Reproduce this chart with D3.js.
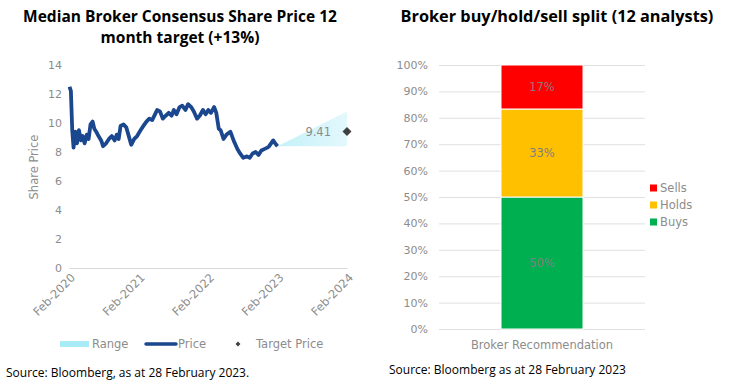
<!DOCTYPE html>
<html>
<head>
<meta charset="utf-8">
<script src="https://cdn.jsdelivr.net/npm/d3@7"></script>
<style>
  body { margin: 0; background: #fff; }
  svg text { font-family: "DejaVu Sans", sans-serif; }
</style>
</head>
<body>
<svg id="chart" width="733" height="384"></svg>
<script>
// share price
const priceDates = ["2020-03-02","2020-03-09","2020-03-16","2020-03-23","2020-04-01","2020-04-10","2020-04-20","2020-05-01","2020-05-10","2020-05-20","2020-06-01","2020-06-10","2020-06-20","2020-07-01","2020-07-10","2020-07-20","2020-08-01","2020-08-15","2020-08-25","2020-09-10","2020-09-25","2020-10-10","2020-10-25","2020-11-05","2020-11-15","2020-11-25","2020-12-10","2020-12-25","2021-01-05","2021-01-20","2021-02-05","2021-02-20","2021-03-10","2021-03-25","2021-04-10","2021-04-25","2021-05-10","2021-05-25","2021-06-05","2021-06-20","2021-07-05","2021-07-20","2021-08-05","2021-08-20","2021-09-01","2021-09-15","2021-10-01","2021-10-15","2021-11-01","2021-11-15","2021-12-01","2021-12-15","2022-01-01","2022-01-15","2022-02-01","2022-02-15","2022-03-01","2022-03-15","2022-04-01","2022-04-12","2022-04-25","2022-05-05","2022-05-20","2022-06-05","2022-06-25","2022-07-15","2022-08-01","2022-08-15","2022-09-01","2022-09-20","2022-10-05","2022-10-20","2022-11-05","2022-11-20","2022-12-05","2022-12-20","2023-01-05","2023-01-15","2023-02-05","2023-02-15","2023-02-28"];
const priceValues = [12.5,12.2,9.5,8.3,9.4,8.6,9.5,8.8,9.1,8.6,9.2,8.9,9.9,10.1,9.6,9.4,9.1,8.8,8.4,8.6,8.9,9.1,8.8,9.2,8.9,9.8,9.9,9.7,9.2,8.5,8.9,9.1,9.5,9.8,10.1,10.3,10.2,10.6,10.9,10.8,10.3,10.5,10.7,10.5,10.9,10.6,11.1,11.2,10.9,11.3,11.1,10.8,10.3,10.5,10.9,10.6,10.9,10.7,11.1,10.7,9.6,9.5,8.9,9.2,9.4,8.7,8.2,7.9,7.6,7.7,7.6,7.9,8.0,7.8,8.1,8.2,8.3,8.4,8.8,8.6,8.4];

const rangeDates = ["2023-02-28","2024-02-28"];
const rangeLow = [8.4, 8.4];
const rangeHigh = [8.4, 10.8];
const targetDate = "2024-02-28";
const targetPrice = 9.41;

const xTickLabels = ["Feb-2020","Feb-2021","Feb-2022","Feb-2023","Feb-2024"];
const xTickDates = ["2020-02-28","2021-02-28","2022-02-28","2023-02-28","2024-02-28"];

// broker split
const splitCategory = "Broker Recommendation";
const splitNames = ["Buys","Holds","Sells"];
const splitCounts = [6, 4, 2];
const splitColors = ["#00b050","#ffc000","#ff0000"];

const parse = d3.timeParse("%Y-%m-%d");
const svg = d3.select("#chart");
const grey = "#8c8c8c";

// ---------- left chart ----------
const x = d3.scaleTime()
  .domain([parse(xTickDates[0]), parse(xTickDates[4])])
  .range([69, 347]);
const y = d3.scaleLinear().domain([0, 14]).range([268, 65]);

svg.append("text").attr("x", 180).attr("y", 22).attr("text-anchor", "middle")
  .style("font-family", "Open Sans").style("font-weight", "bold").style("font-size", "15.5px")
  .text("Median Broker Consensus Share Price 12");
svg.append("text").attr("x", 180).attr("y", 43).attr("text-anchor", "middle")
  .style("font-family", "Open Sans").style("font-weight", "bold").style("font-size", "15.5px")
  .text("month target (+13%)");

// y axis (labels only)
const yAxis = svg.append("g").attr("transform", "translate(62,0)")
  .call(d3.axisLeft(y).tickValues(d3.range(0, 15, 2)).tickSize(0).tickPadding(0));
yAxis.select(".domain").remove();
yAxis.selectAll("text").attr("fill", grey).style("font-size", "11px");

svg.append("text")
  .attr("transform", "translate(38,167) rotate(-90)")
  .attr("text-anchor", "middle").attr("fill", grey).style("font-size", "11.5px")
  .text("Share Price");

// x axis
const xAxis = svg.append("g").attr("transform", "translate(0,268)")
  .call(d3.axisBottom(x).tickValues(xTickDates.map(parse)).tickSize(0)
    .tickFormat((d, i) => xTickLabels[i]));
xAxis.select(".domain").attr("stroke", "#d9d9d9");
xAxis.selectAll("text")
  .attr("fill", grey).style("font-size", "11.5px")
  .attr("text-anchor", "end")
  .attr("dy", "0.3em").attr("dx", "0")
  .attr("transform", "translate(4,8) rotate(-45)")
  .attr("y", 0);

// range cone
const grad = svg.append("defs").append("linearGradient").attr("id", "rangeGrad")
  .attr("x1", "0").attr("x2", "1").attr("y1", "0").attr("y2", "0");
grad.append("stop").attr("offset", "0").attr("stop-color", "#c4f1f9");
grad.append("stop").attr("offset", "1").attr("stop-color", "#e3f8fc");

const rangeData = rangeDates.map((d, i) => ({ date: parse(d), lo: rangeLow[i], hi: rangeHigh[i] }));
svg.append("path").datum(rangeData)
  .attr("fill", "url(#rangeGrad)")
  .attr("d", d3.area().x(d => x(d.date)).y0(d => y(d.lo)).y1(d => y(d.hi)));

// price line
const priceData = priceDates.map((d, i) => ({ date: parse(d), v: priceValues[i] }));
svg.append("path").datum(priceData)
  .attr("fill", "none").attr("stroke", "#1b478e").attr("stroke-width", 3.8)
  .attr("stroke-linejoin", "round")
  .attr("d", d3.line().x(d => x(d.date)).y(d => y(d.v)));

// target
const tx = x(parse(targetDate)), ty = y(targetPrice);
svg.append("path").attr("d", d3.symbol(d3.symbolSquare, 40)())
  .attr("transform", `translate(${tx},${ty}) rotate(45)`).attr("fill", "#404040");
svg.append("text").attr("x", tx - 16).attr("y", ty + 4).attr("text-anchor", "end")
  .attr("fill", grey).style("font-size", "11.5px").text(d3.format(".2f")(targetPrice));

// legend left
const lg = svg.append("g").attr("transform", "translate(0,344)");
lg.append("rect").attr("x", 60).attr("y", -3).attr("width", 29).attr("height", 6).attr("fill", "#a9ebf6");
lg.append("text").attr("x", 92).attr("y", 4).attr("fill", grey).style("font-size", "11.5px").text("Range");
lg.append("line").attr("x1", 146).attr("x2", 176).attr("y1", 0).attr("y2", 0)
  .attr("stroke", "#1b478e").attr("stroke-width", 3.5).attr("stroke-linecap", "round");
lg.append("text").attr("x", 178).attr("y", 4).attr("fill", grey).style("font-size", "11.5px").text("Price");
lg.append("path").attr("d", d3.symbol(d3.symbolSquare, 12)())
  .attr("transform", "translate(238,0) rotate(45)").attr("fill", "#404040");
lg.append("text").attr("x", 256).attr("y", 4).attr("fill", grey).style("font-size", "11.5px").text("Target Price");

svg.append("text").attr("x", 6).attr("y", 377)
  .style("font-family", "Open Sans").style("font-size", "12px").attr("fill", "#000")
  .text("Source: Bloomberg, as at 28 February 2023.");

// ---------- right chart ----------
svg.append("text").attr("x", 557).attr("y", 22).attr("text-anchor", "middle")
  .style("font-family", "Open Sans").style("font-weight", "bold").style("font-size", "16.3px")
  .text("Broker buy/hold/sell split (12 analysts)");

const total = d3.sum(splitCounts);
const shares = splitCounts.map(c => c / total);
const y2 = d3.scaleLinear().domain([0, 1]).range([329, 65]);
const xb = d3.scaleBand().domain([splitCategory]).range([439, 645]).paddingInner(0).paddingOuter(0.3);

const g2 = svg.append("g");
const yAxis2 = g2.append("g").attr("transform", "translate(439,0)")
  .call(d3.axisLeft(y2).tickValues(d3.range(0, 1.01, 0.1)).tickFormat(d3.format(".0%"))
    .tickSize(-206).tickPadding(11));
yAxis2.select(".domain").remove();
yAxis2.selectAll("line").attr("stroke", "#e0e0e0");
yAxis2.selectAll("text").attr("fill", grey).style("font-size", "11px");

const stack = d3.stack().keys(splitNames)([Object.fromEntries(splitNames.map((n, i) => [n, shares[i]]))]);
const bw = 82;
const bx = xb(splitCategory) + xb.bandwidth() / 2 - bw / 2;
stack.forEach((s, i) => {
  const d = s[0];
  g2.append("rect")
    .attr("x", bx).attr("width", bw)
    .attr("y", y2(d[1])).attr("height", y2(d[0]) - y2(d[1]))
    .attr("fill", splitColors[i]).attr("stroke", "#fff").attr("stroke-width", 1);
  g2.append("text")
    .attr("x", bx + bw / 2).attr("y", (y2(d[0]) + y2(d[1])) / 2 + 4)
    .attr("text-anchor", "middle").attr("fill", "#7f7f7f").style("font-size", "11.5px")
    .text(d3.format(".0%")(shares[i]));
});

g2.append("text").attr("x", xb(splitCategory) + xb.bandwidth() / 2).attr("y", 349)
  .attr("text-anchor", "middle").attr("fill", grey).style("font-size", "11.5px").text(splitCategory);

// legend right (top to bottom: Sells, Holds, Buys)
const legendOrder = splitNames.map((n, i) => i).reverse();
legendOrder.forEach((idx, k) => {
  const ly = 188 + k * 17;
  g2.append("rect").attr("x", 650).attr("y", ly - 3.5).attr("width", 7).attr("height", 7).attr("fill", splitColors[idx]);
  g2.append("text").attr("x", 660).attr("y", ly + 4).attr("fill", grey).style("font-size", "11.5px").text(splitNames[idx]);
});

svg.append("text").attr("x", 389).attr("y", 374)
  .style("font-family", "Open Sans").style("font-size", "12px").attr("fill", "#000")
  .text("Source: Bloomberg as at 28 February 2023");
</script>
</body>
</html>
